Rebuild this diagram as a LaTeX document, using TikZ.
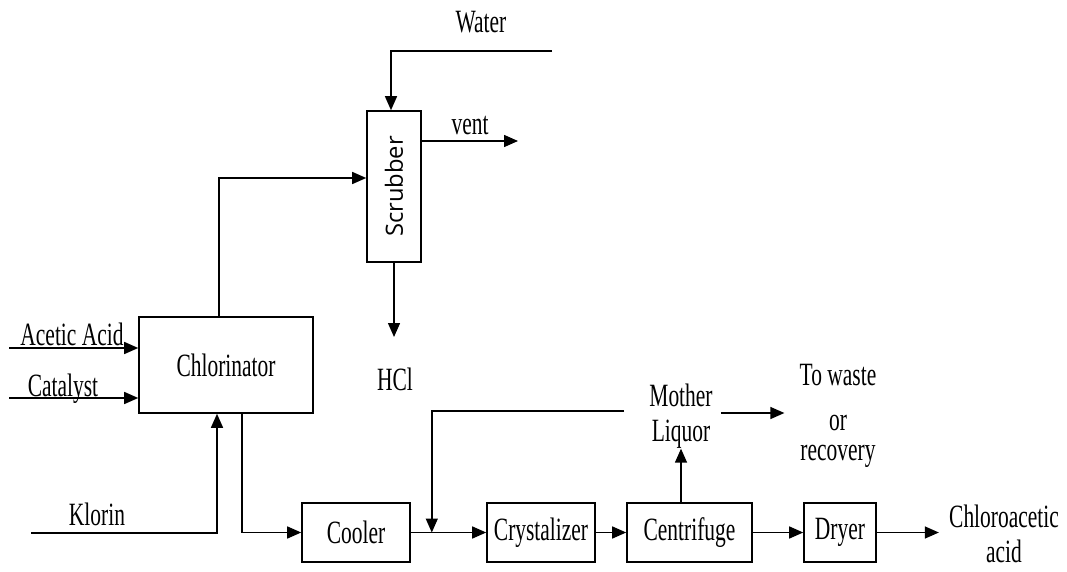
\documentclass[tikz,border=0pt]{standalone}
\usepackage{fontspec}
\setmainfont{Liberation Serif}[FakeStretch=0.66]
\newfontfamily\scrubfont{Open Sans}
\usetikzlibrary{positioning, arrows.meta}

\begin{document}
\begin{tikzpicture}[
  x=0.2mm, y=-0.2mm,
  font=\fontsize{18.5}{20}\selectfont,
  box/.style={draw, line width=0.9pt, minimum height=1.18cm, inner sep=0pt,
    align=center},
  arr/.style={-{Triangle[length=2.8mm, width=2.4mm]}, line width=0.8pt},
  lbl/.style={inner sep=0pt, align=center}
]
\useasboundingbox (0,0) rectangle (1067,571);

% units
\node[box, minimum width=3.48cm, minimum height=1.92cm] (chlor) at (226,365) {Chlorinator};
\node[box, minimum width=1.08cm, minimum height=3.02cm] (scrub) at (394,186.5)
  {\rotatebox{90}{\scrubfont\fontsize{13.5}{16}\selectfont Scrubber}};
\node[box, minimum width=2.16cm] (cooler) at (356,532.5) {Cooler};
\node[box, minimum width=2.16cm] (cryst) at (541,532.5) {Crystalizer};
\node[box, minimum width=2.5cm] (centri) at (689.5,532.5) {Centrifuge};
\node[box, minimum width=1.44cm] (dryer) at (840,532.5) {Dryer};

% stream labels
\node[lbl, anchor=base] (acetic) at (72,345) {Acetic Acid};
\node[lbl, anchor=base] (cat) at (63,396) {Catalyst};
\node[lbl, anchor=base] (klorin) at (97,525) {Klorin};
\node[lbl, anchor=base] (water) at (481,33) {Water};
\node[lbl, anchor=base] (vent) at (470,134) {vent};
\node[lbl, anchor=base] (hcl) at (395,390) {HCl};
\node[lbl] (mother) at (681,416) {Mother\\Liquor};
\node[lbl, font=\fontsize{18.5}{17}\selectfont] (waste) at (838,416)
  {To waste\\[8.5pt]or\\recovery};
\node[lbl] (product) at (1004,534) {Chloroacetic\\acid};

% free ends
\coordinate (acetic in) at (9,348);
\coordinate (cat in) at (9,398);
\coordinate (klorin in) at (31,533);
\coordinate (water in) at (552,51);
\coordinate (vent out) at (518,141);
\coordinate (hcl out) at (394,337);
\coordinate (mix) at ([xshift=4.2mm]cooler.east);

\draw[arr] (acetic in) -- (acetic in -| chlor.west);
\draw[arr] (cat in) -- (cat in -| chlor.west);
\draw[arr] (klorin in) -| ([xshift=-1.8mm]chlor.south);
\draw[arr] ([xshift=-1.4mm]chlor.north) |- ([yshift=1.7mm]scrub.west);
\draw[arr] (water in) -| ([xshift=-0.6mm]scrub.north);
\draw[arr] (scrub.east |- vent out) -- (vent out);
\draw[arr] (scrub.south) -- (hcl out);
\draw[arr] ([xshift=3.2mm]chlor.south) |- (cooler.west);
\draw[arr] (cooler) -- (cryst);
\draw[arr] (cryst) -- (centri);
\draw[arr] (centri) -- (dryer);
\draw[arr, shorten >=2mm] (dryer.east) -- (dryer.east -| product.west);
\draw[arr] (mother.south |- centri.north) -- (mother.south);
\draw[arr] ([xshift=-5mm,yshift=1mm]mother.west) -| (mix);
\draw[arr, shorten >=3mm] ([xshift=1.6mm,yshift=0.6mm]mother.east)
  -- ([yshift=0.6mm]mother.east -| waste.west);
\end{tikzpicture}
\end{document}
